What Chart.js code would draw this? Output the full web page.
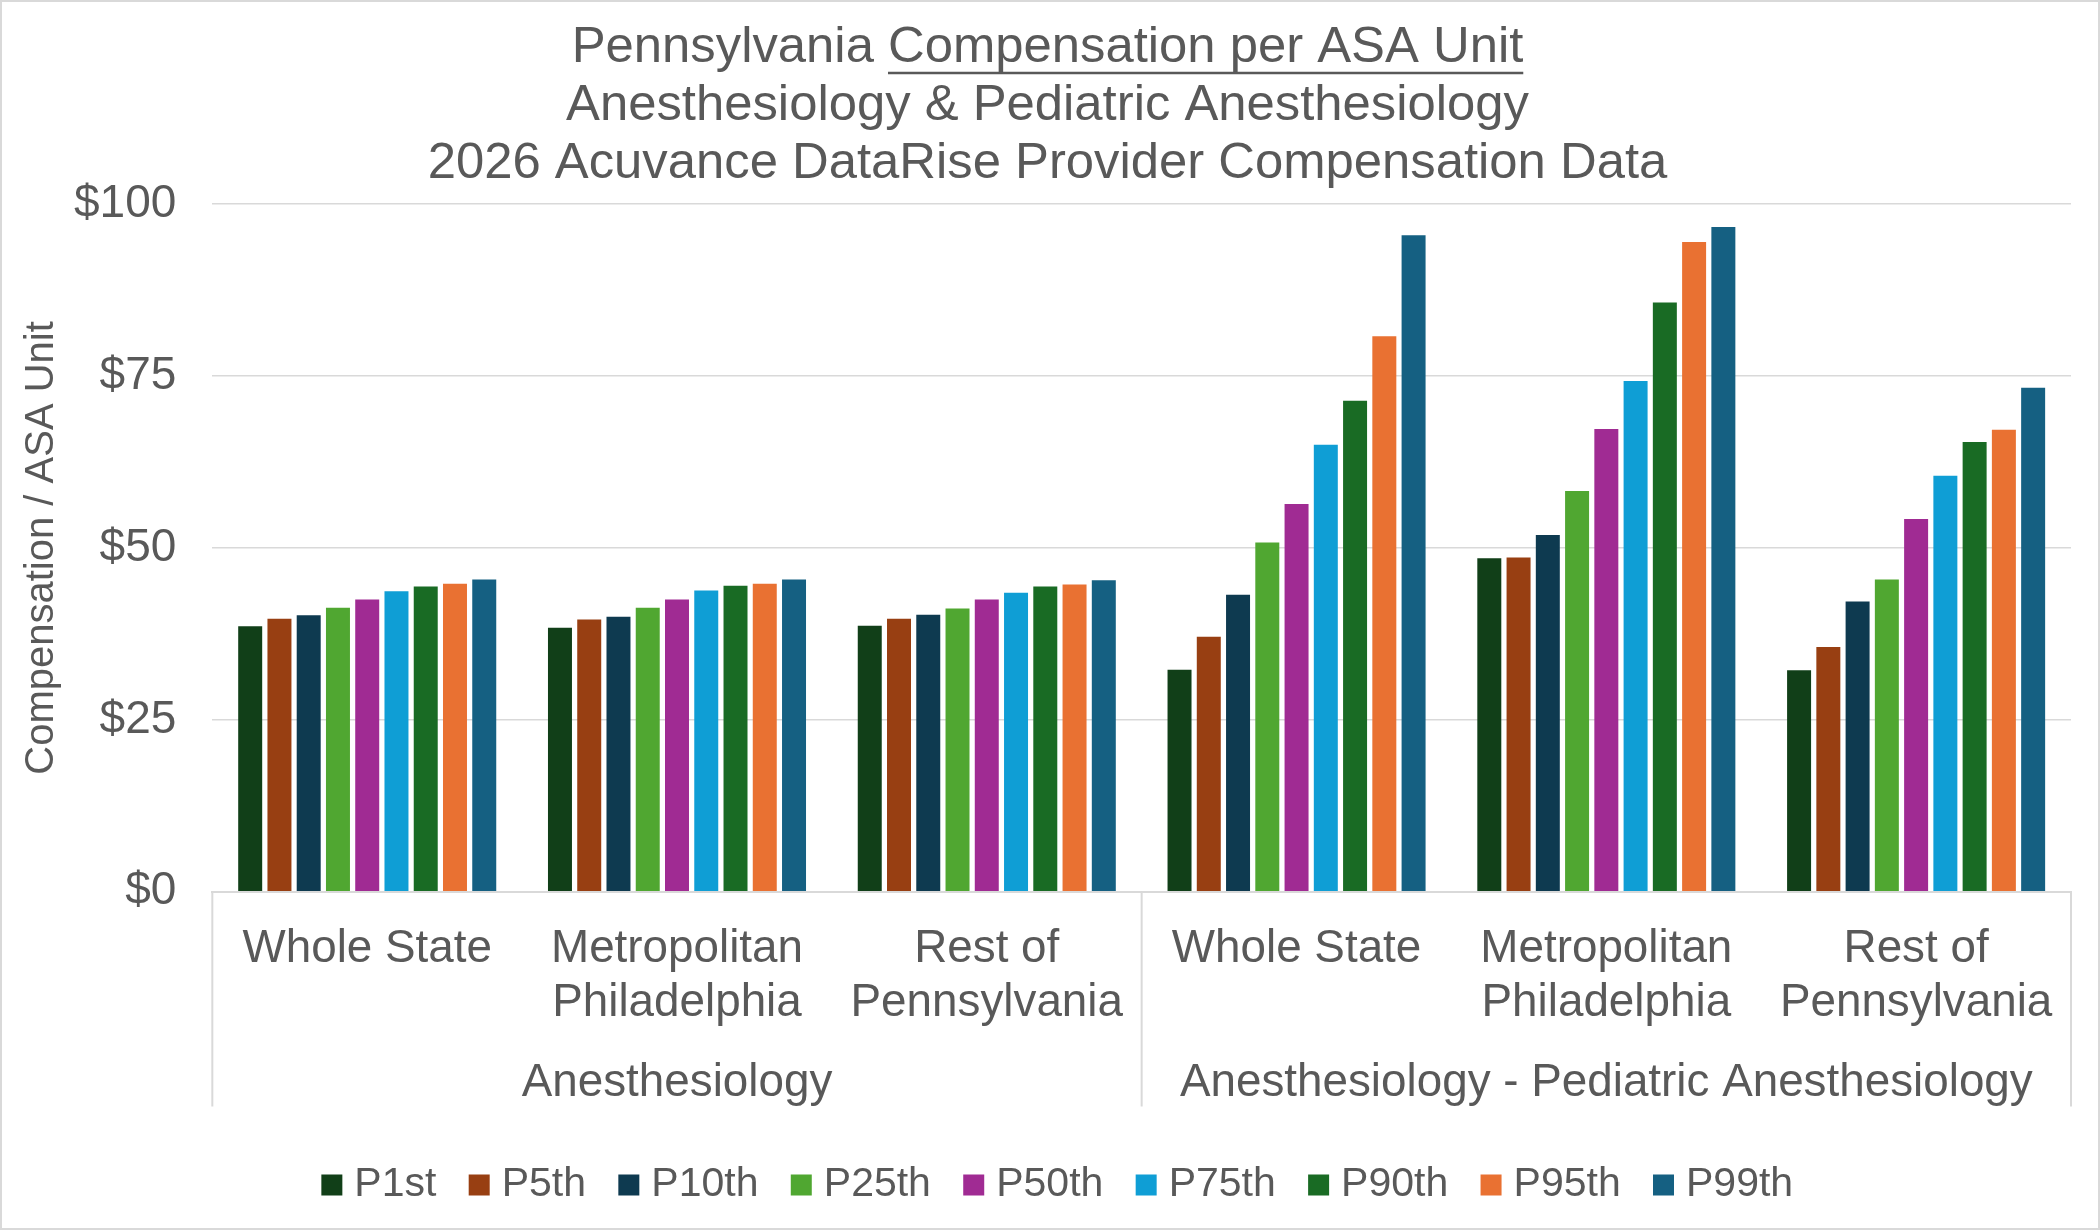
<!DOCTYPE html>
<html>
<head>
<meta charset="utf-8">
<script src="https://cdn.jsdelivr.net/npm/chart.js@4.4.1/dist/chart.umd.min.js"></script>
<style>
  html, body { margin: 0; padding: 0; background: #fff; }
  #wrap { width: 2100px; height: 1230px; position: relative; }
</style>
</head>
<body>
<div id="wrap"><canvas id="comp"></canvas></div>
<script>
const categories = [
    'Whole State', ['Metropolitan', 'Philadelphia'], ['Rest of', 'Pennsylvania'],
    'Whole State', ['Metropolitan', 'Philadelphia'], ['Rest of', 'Pennsylvania']
];
const groups = ['Anesthesiology', 'Anesthesiology - Pediatric Anesthesiology'];
const percentiles = ['P1st', 'P5th', 'P10th', 'P25th', 'P50th', 'P75th', 'P90th', 'P95th', 'P99th'];
const yTicks = [0, 25, 50, 75, 100];

const p1 = [38.6, 38.4, 38.7, 32.3, 48.5, 32.2];
const p5 = [39.7, 39.6, 39.7, 37.1, 48.6, 35.6];
const p10 = [40.2, 40.0, 40.3, 43.2, 51.9, 42.2];
const p25 = [41.3, 41.3, 41.2, 50.8, 58.3, 45.4];
const p50 = [42.5, 42.5, 42.5, 56.4, 67.3, 54.2];
const p75 = [43.7, 43.8, 43.5, 65.0, 74.3, 60.5];
const p90 = [44.4, 44.5, 44.4, 71.4, 85.7, 65.4];
const p95 = [44.8, 44.8, 44.7, 80.8, 94.5, 67.2];
const p99 = [45.4, 45.4, 45.3, 95.5, 96.7, 73.3];

const colors = ['#113f18', '#983f12', '#0e3a50', '#50a731', '#a02b93', '#0f9ed5', '#196b24', '#e97132', '#156082'];
const series = [p1, p5, p10, p25, p50, p75, p90, p95, p99];

const FONT = '"Liberation Sans", Arial, sans-serif';
const TXT = '#595959';
const GRID = '#d9d9d9';
const TITLE_SIZE = 50.8;
const TITLE_LH = 1.143;

// white page + thin frame
const framePlugin = {
    id: 'frame',
    beforeDraw(chart) {
        const c = chart.ctx;
        c.save();
        c.fillStyle = '#fff';
        c.fillRect(0, 0, chart.width, chart.height);
        c.strokeStyle = GRID;
        c.lineWidth = 2;
        c.strokeRect(1, 1, chart.width - 2, chart.height - 2);
        c.restore();
    }
};

// nudge title and legend so they sit centred like the original
const centreShift = {
    id: 'centreShift',
    afterLayout(chart) {
        chart.legend.left += 20;
        chart.legend.right += 20;
        chart.titleBlock.left += 6;
        chart.titleBlock.right += 6;
    }
};

// vertical separators for the two-level category axis
const separatorPlugin = {
    id: 'separators',
    afterDraw(chart) {
        const x = chart.scales.x, x2 = chart.scales.x2;
        const mid = (x.getPixelForValue(2) + x.getPixelForValue(3)) / 2;
        const bottom = x2.bottom - 4;
        const c = chart.ctx;
        c.save();
        c.strokeStyle = GRID;
        c.lineWidth = 2;
        [x.left, mid, x.right].forEach(px => {
            c.beginPath();
            c.moveTo(px, x.top);
            c.lineTo(px, bottom);
            c.stroke();
        });
        c.restore();
    }
};

// underline the second half of the first title line
const underlinePlugin = {
    id: 'underline',
    afterDraw(chart) {
        const tb = chart.titleBlock;
        const lh = TITLE_SIZE * TITLE_LH;
        const c = chart.ctx;
        c.save();
        c.font = TITLE_SIZE + 'px ' + FONT;
        const full = 'Pennsylvania Compensation per ASA Unit';
        const w = c.measureText(full).width;
        const wp = c.measureText('Pennsylvania ').width;
        const cx = (tb.left + tb.right) / 2;
        const y = tb.top + tb.options.padding.top + lh / 2 + 25;
        c.strokeStyle = TXT;
        c.lineWidth = 2.5;
        c.beginPath();
        c.moveTo(cx - w / 2 + wp, y);
        c.lineTo(cx + w / 2, y);
        c.stroke();
        c.restore();
    }
};

const ctx = document.getElementById('comp').getContext('2d');
const compChart = new Chart(ctx, {
    type: 'bar',
    data: {
        labels: categories,
        datasets: percentiles.map((name, i) => ({
            label: name,
            data: series[i],
            backgroundColor: colors[i],
            borderWidth: 0,
            categoryPercentage: 0.85,
            barPercentage: 0.82
        }))
    },
    options: {
        responsive: true,
        maintainAspectRatio: false,
        devicePixelRatio: 1,
        animation: false,
        layout: { padding: { left: 12, right: 29, top: 0, bottom: 14.5 } },
        plugins: {
            title: {
                display: true,
                text: [
                    'Pennsylvania Compensation per ASA Unit',
                    'Anesthesiology & Pediatric Anesthesiology',
                    '2026 Acuvance DataRise Provider Compensation Data'
                ],
                color: TXT,
                font: { family: FONT, size: TITLE_SIZE, weight: 'normal', lineHeight: TITLE_LH },
                padding: { top: 19, bottom: 11 }
            },
            legend: {
                position: 'bottom',
                title: { display: true, text: ' ', font: { size: 13.2, lineHeight: 1 }, padding: 0 },
                labels: {
                    color: TXT,
                    font: { family: FONT, size: 41 },
                    usePointStyle: true,
                    pointStyle: 'rect',
                    boxWidth: 4,
                    boxHeight: 21,
                    padding: 40.8
                }
            },
            tooltip: { enabled: false }
        },
        scales: {
            x: {
                grid: {
                    display: true,
                    drawOnChartArea: false,
                    drawTicks: true,
                    tickLength: 31.2,
                    color: 'rgba(0,0,0,0)'
                },
                border: { display: true, color: GRID, width: 2 },
                ticks: {
                    color: TXT,
                    font: { family: FONT, size: 45.8, lineHeight: 1.17 },
                    padding: 0,
                    maxRotation: 0,
                    autoSkip: false
                }
            },
            x2: {
                type: 'category',
                labels: groups,
                position: 'bottom',
                offset: true,
                weight: 1,
                grid: {
                    display: true,
                    drawOnChartArea: false,
                    drawTicks: true,
                    tickLength: 26.8,
                    color: 'rgba(0,0,0,0)'
                },
                border: { display: false },
                ticks: {
                    color: TXT,
                    font: { family: FONT, size: 45.8, lineHeight: 1.17 },
                    padding: 0,
                    maxRotation: 0,
                    autoSkip: false
                }
            },
            y: {
                min: 0,
                max: 100,
                afterBuildTicks(scale) {
                    scale.ticks = yTicks.map(v => ({ value: v }));
                },
                ticks: {
                    color: TXT,
                    font: { family: FONT, size: 46 },
                    padding: 8,
                    callback: v => '$' + v
                },
                grid: {
                    color: GRID,
                    lineWidth: 1.5,
                    drawTicks: true,
                    tickLength: 28,
                    tickColor: 'rgba(0,0,0,0)'
                },
                border: { display: false },
                title: {
                    display: true,
                    text: 'Compensation / ASA Unit',
                    color: TXT,
                    font: { family: FONT, size: 40, lineHeight: 1.2 },
                    padding: { top: 6, bottom: 0 }
                }
            }
        }
    },
    plugins: [framePlugin, centreShift, separatorPlugin, underlinePlugin]
});
</script>
</body>
</html>
